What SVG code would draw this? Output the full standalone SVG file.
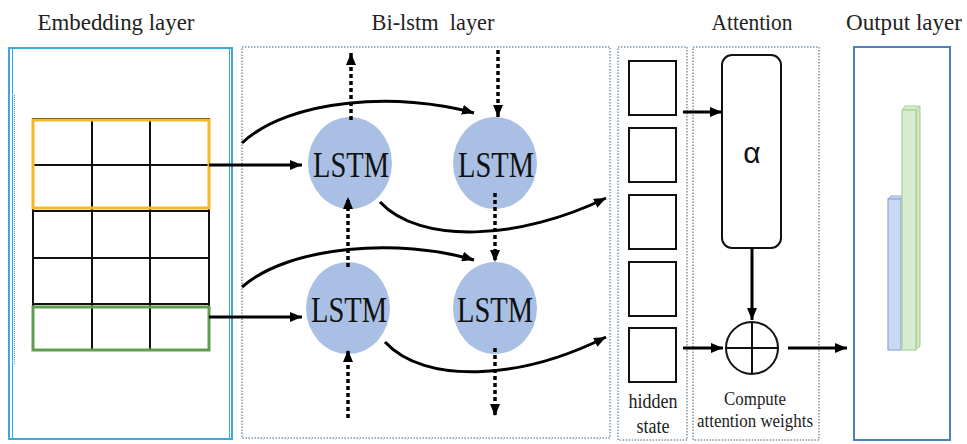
<svg xmlns="http://www.w3.org/2000/svg" width="967" height="444" viewBox="0 0 967 444">
  <defs>
    <marker id="arrow" viewBox="0 0 12 10" refX="12" refY="5" markerWidth="12" markerHeight="10" markerUnits="userSpaceOnUse" orient="auto">
      <path d="M0,0 L12,5 L0,10 Z" fill="#000"/>
    </marker>
  </defs>
  <style>
    .title { font-family: "Liberation Serif", "Times New Roman", serif; font-size: 23px; fill: #222; white-space: pre; }
    .lbl { font-family: "Liberation Serif", "Times New Roman", serif; font-size: 20px; fill: #222; }
    .lbl-s { font-family: "Liberation Serif", "Times New Roman", serif; font-size: 18px; fill: #222; }
    .lstm-txt { font-family: "Liberation Serif", "Times New Roman", serif; font-size: 35px; fill: #111; }
    .cell { fill: #a9bfe3; }
    .panel { fill: none; stroke: #7d95a8; stroke-width: 1.5; stroke-dasharray: 1.5 1.5; }
    .grid { stroke: #111; stroke-width: 2; fill: none; }
    .solid { stroke: #000; stroke-width: 3; fill: none; marker-end: url(#arrow); }
    .dotted { stroke: #000; stroke-width: 3.5; fill: none; stroke-dasharray: 4 3; marker-end: url(#arrow); }
    .hbox { fill: #fff; stroke: #111; stroke-width: 2; }
  </style>

  <!-- column titles -->
  <text class="title" x="116" y="30" text-anchor="middle" textLength="157" lengthAdjust="spacingAndGlyphs">Embedding layer</text>
  <text class="title" x="433" y="30" text-anchor="middle" textLength="123" lengthAdjust="spacingAndGlyphs">Bi-lstm  layer</text>
  <text class="title" x="752" y="30" text-anchor="middle" textLength="81" lengthAdjust="spacingAndGlyphs">Attention</text>
  <text class="title" x="904" y="30" text-anchor="middle" textLength="116" lengthAdjust="spacingAndGlyphs">Output layer</text>

  <!-- embedding layer -->
  <g id="embedding">
    <rect x="9" y="48" width="223" height="391" fill="none" stroke="#3ea7dc" stroke-width="2"/>
    <line x1="12.5" y1="49" x2="12.5" y2="438" stroke="#3ea7dc" stroke-width="1"/>
    <line x1="229.5" y1="49" x2="229.5" y2="438" stroke="#3ea7dc" stroke-width="1"/>
    <line x1="14.5" y1="95" x2="14.5" y2="365" stroke="#3ea7dc" stroke-width="1" stroke-dasharray="1 1"/>
    <g class="grid">
      <rect x="33" y="119" width="176" height="231"/>
      <line x1="92" y1="119" x2="92" y2="350"/>
      <line x1="150" y1="119" x2="150" y2="350"/>
      <line x1="33" y1="165" x2="209" y2="165"/>
      <line x1="33" y1="211" x2="209" y2="211"/>
      <line x1="33" y1="258" x2="209" y2="258"/>
      <line x1="33" y1="304" x2="209" y2="304"/>
    </g>
    <rect x="33" y="120" width="176" height="88" fill="none" stroke="#f4b925" stroke-width="3"/>
    <rect x="33" y="307" width="176" height="43" fill="none" stroke="#5e9e4c" stroke-width="3"/>
  </g>

  <!-- bi-lstm layer -->
  <g id="bilstm">
    <rect class="panel" x="242" y="47" width="368" height="391"/>
    <g id="lstm-1">
      <ellipse class="cell" cx="350" cy="163" rx="42" ry="46"/>
      <text class="lstm-txt" x="351" y="177" text-anchor="middle" textLength="76" lengthAdjust="spacingAndGlyphs">LSTM</text>
    </g>
    <g id="lstm-2">
      <ellipse class="cell" cx="495" cy="163" rx="42" ry="46"/>
      <text class="lstm-txt" x="496" y="177" text-anchor="middle" textLength="76" lengthAdjust="spacingAndGlyphs">LSTM</text>
    </g>
    <g id="lstm-3">
      <ellipse class="cell" cx="348" cy="308" rx="42" ry="46"/>
      <text class="lstm-txt" x="349" y="322" text-anchor="middle" textLength="76" lengthAdjust="spacingAndGlyphs">LSTM</text>
    </g>
    <g id="lstm-4">
      <ellipse class="cell" cx="495" cy="308" rx="42" ry="46"/>
      <text class="lstm-txt" x="495" y="322" text-anchor="middle" textLength="76" lengthAdjust="spacingAndGlyphs">LSTM</text>
    </g>
  </g>

  <!-- hidden state column -->
  <g id="hidden-state">
    <rect class="panel" x="618" y="47" width="69" height="393"/>
    <rect class="hbox" x="629" y="61" width="47" height="54"/>
    <rect class="hbox" x="629" y="128" width="47" height="54"/>
    <rect class="hbox" x="629" y="195" width="47" height="54"/>
    <rect class="hbox" x="629" y="262" width="47" height="54"/>
    <rect class="hbox" x="629" y="328" width="47" height="54"/>
    <text class="lbl" x="653" y="408" text-anchor="middle" textLength="49" lengthAdjust="spacingAndGlyphs">hidden</text>
    <text class="lbl" x="653" y="433" text-anchor="middle" textLength="33" lengthAdjust="spacingAndGlyphs">state</text>
  </g>

  <!-- attention -->
  <g id="attention">
    <rect class="panel" x="693" y="47" width="126" height="393"/>
    <rect x="722" y="55" width="59" height="193" rx="10" fill="#fff" stroke="#111" stroke-width="2"/>
    <text x="752" y="163" text-anchor="middle" font-family="Liberation Sans, Arial, sans-serif" font-size="30" fill="#111">α</text>
    <g stroke="#111" stroke-width="2" fill="#fff">
      <circle cx="752" cy="348" r="26"/>
      <line x1="726" y1="348" x2="778" y2="348"/>
      <line x1="752" y1="322" x2="752" y2="374"/>
    </g>
    <text class="lbl-s" x="755" y="405" text-anchor="middle" textLength="62" lengthAdjust="spacingAndGlyphs">Compute</text>
    <text class="lbl-s" x="755" y="427" text-anchor="middle" textLength="116" lengthAdjust="spacingAndGlyphs">attention weights</text>
  </g>

  <!-- output layer -->
  <g id="output">
    <rect x="854" y="47" width="96" height="393" fill="#fff" stroke="#4f7fbd" stroke-width="2"/>
    <!-- blue bar -->
    <path d="M888,199 L891,196 L904,196 L901,199 Z" fill="#c9d8f3" stroke="#8ea8db" stroke-width="1"/>
    <rect x="888" y="199" width="13" height="151" fill="#c9d8f3" stroke="#8ea8db" stroke-width="1.2"/>
    <!-- green bar -->
    <path d="M902,110 L905,106 L920,106 L916,110 Z" fill="#d6ebcf" stroke="#a9d18e" stroke-width="1"/>
    <path d="M916,110 L920,106 L920,346 L916,350 Z" fill="#cfe6c6" stroke="#a9d18e" stroke-width="1"/>
    <rect x="902" y="110" width="14" height="240" fill="#d6ebcf" stroke="#a9d18e" stroke-width="1.2"/>
  </g>

  <!-- connectors -->
  <g id="connectors">
    <line class="solid" x1="209" y1="165" x2="302" y2="165"/>
    <line class="solid" x1="209" y1="317" x2="302" y2="317"/>
    <path class="solid" d="M242,143 C290,98 400,92 474,113"/>
    <path class="solid" d="M242,287 C290,245 400,238 474,260"/>
    <path class="solid" d="M380,202 C420,245 520,240 606,198"/>
    <path class="solid" d="M385,342 C425,385 520,380 606,337"/>

    <line class="dotted" x1="351" y1="120" x2="351" y2="53"/>
    <line class="dotted" x1="498" y1="50" x2="498" y2="117"/>
    <line class="dotted" x1="348" y1="267" x2="348" y2="197"/>
    <line class="dotted" x1="495" y1="193" x2="495" y2="262"/>
    <line class="dotted" x1="348" y1="418" x2="348" y2="350"/>
    <line class="dotted" x1="495" y1="348" x2="495" y2="416"/>

    <line class="solid" x1="683" y1="112" x2="722" y2="112"/>
    <line class="solid" x1="683" y1="348" x2="723" y2="348"/>
    <line class="solid" x1="752" y1="248" x2="752" y2="320"/>
    <line class="solid" x1="788" y1="348" x2="847" y2="348"/>
  </g>
</svg>
